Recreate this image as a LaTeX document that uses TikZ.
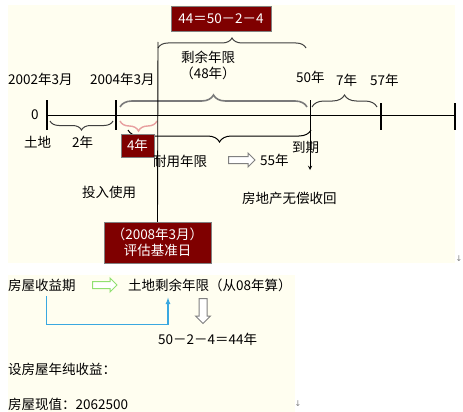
\documentclass[tikz,border=0pt]{standalone}
\usepackage{fontspec}
\setmainfont{Noto Sans CJK SC}
\newfontfamily\symfont{DejaVu Sans}
\usetikzlibrary{decorations.pathreplacing,shapes.arrows,positioning}
\definecolor{cream}{HTML}{FFFEF0}
\definecolor{boxred}{HTML}{7F0000}
\definecolor{bracegray}{HTML}{7A7A7A}
\definecolor{bracepink}{HTML}{E8A0A0}
\definecolor{linkblue}{HTML}{3AA8E0}
\definecolor{arrowgreen}{HTML}{90E070}
\begin{document}
\begin{tikzpicture}[x=1pt,y=-1pt,
  txt/.style={inner sep=0pt, anchor=west, font=\fontsize{13.5}{16}\selectfont},
  redbox/.style={draw=gray, fill=boxred, text=white, inner sep=0pt, align=center, font=\fontsize{13.5}{16}\selectfont},
  brc/.style={decorate, decoration={brace, amplitude=#1}},
  mbrc/.style={decorate, decoration={brace, mirror, amplitude=#1}},
  tickline/.style={line width=1.1pt},
  hollow/.style={single arrow, draw=#1, line width=1pt, fill=white, inner sep=0pt, single arrow head extend=3.5pt},
  link/.style={-latex, draw=linkblue, line width=1.2pt},
  pmark/.style={text=gray, inner sep=0pt, font=\symfont\fontsize{8}{8}\selectfont}
]
% Hintergrund
\useasboundingbox[fill=white] (0,0) rectangle (463,412);
\fill[cream] (8,5) rectangle (455,263);
\fill[cream] (8,275) rectangle (295,412);

% Zeitachse
\coordinate (t0) at (47,115);
\coordinate (t2) at (116,115);
\coordinate (t50) at (310,115);
\coordinate (t57) at (381,115);
\coordinate (tend) at (455,115);
\draw[line width=0.9pt] (t0) -- (tend);
\draw[tickline] (47,100) -- (47,130);
\draw[tickline] (116,100) -- (116,130);
\draw[tickline] (381,103) -- (381,130);
\draw[tickline] (455,103) -- (455,130);

% Beschriftungen oben
\node[redbox, minimum width=100pt, minimum height=25pt] (eqbox) at (221,18.5) {44＝50－2－4};
\node[txt, anchor=center, align=center] (remain) at (208,65) {剩余年限\\（48年）};
\node[txt] (y2002) at (8,79) {2002年3月};
\node[txt] (y2004) at (90,79) {2004年3月};
\node[txt] (y50) at (296,77) {50年};
\node[txt] (y7) at (336,80) {7年};
\node[txt] (y57) at (370,80) {57年};
\node[txt] (zero) at (31,115) {0};

% Klammern
\draw[brc=10pt, line width=1pt, black!75] (158,48) -- (306,48);
\draw[brc=12pt, line width=1.6pt, bracegray] (120,107) -- (307,107);
\draw[brc=12pt, line width=1pt, black!75] (312,107) -- (377,107);
\draw[mbrc=9pt, line width=1pt, black!75] (50,121) -- (113,121);
\draw[mbrc=10pt, line width=1.4pt, bracepink] (120,121) -- (157,121);
\draw[mbrc=12pt, line width=1pt] (128,130) -- (311,130);

% Beschriftungen unten
\node[txt] (land) at (24,142) {土地};
\node[txt] (two) at (72,142) {2年};
\node[redbox, minimum width=33pt, minimum height=23pt] (fourbox) at (137.5,145.5) {4年};
\node[txt] (life) at (153,161) {耐用年限};
\node[hollow=gray, minimum height=14pt, inner xsep=11pt, inner ysep=3pt] (lifearrow) at (240,160) {};
\node[txt] (y55) at (260,160) {55年};
\node[txt] (due) at (292,147) {到期};
\node[txt] (use) at (82,192) {投入使用};
\node[txt] (back) at (242,198) {房地产无偿收回};
\node[redbox, minimum width=107pt, minimum height=41pt] (datebox) at (157.5,242.5) {（2008年3月）\\评估基准日};

% Linien
\coordinate (dueend) at (310,170);
\draw[line width=0.9pt] (158,42) -- (datebox.north);
\draw[-stealth, line width=0.9pt] (310,100) -- (dueend);

% unterer Teil
\node[txt] (income) at (8,285) {房屋收益期};
\node[hollow=arrowgreen, inner xsep=10pt, inner ysep=3pt] (greenarrow) at (103,285) {};
\node[txt] (landrem) at (128,285) {土地剩余年限（从08年算）};
\draw[link] ([xshift=4.5pt,yshift=-5pt]income.south) -- ++(0,28) -| ([xshift=40pt,yshift=-6pt]landrem.south west);
\node[hollow=gray, shape border rotate=270, inner xsep=3.5pt, inner ysep=10pt] (downarrow) at (203,309) {};
\node[txt] (calc) at (158,339) {50－2－4＝44年};
\node[txt] (setq) at (8,369) {设房屋年纯收益：};
\node[txt] (value) at (8,404) {房屋现值：2062500};
\node[pmark] (mark1) at (459,259) {↓};
\node[pmark] (mark2) at (298,404) {↓};
\end{tikzpicture}
\end{document}
